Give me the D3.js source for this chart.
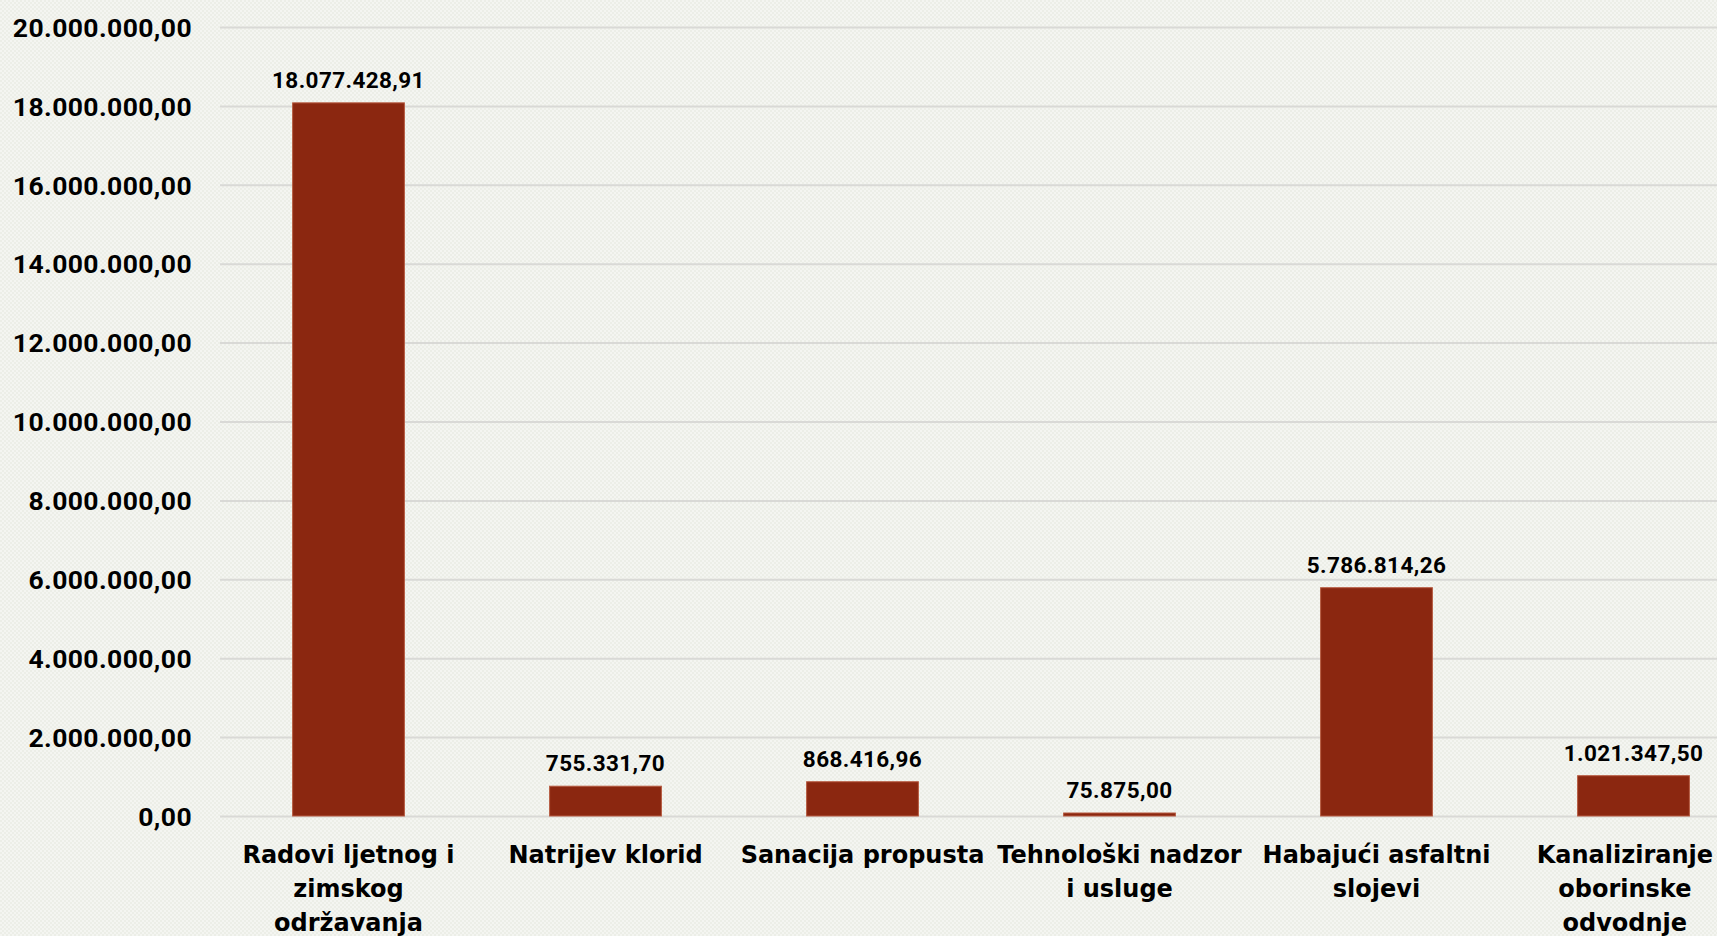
<!DOCTYPE html>
<html><head><meta charset="utf-8">
<script src="https://cdn.jsdelivr.net/npm/d3@7"></script>
<style>html,body{margin:0;padding:0;overflow:hidden;background:#f1f3ee}</style>
</head><body>
<svg id="chart" width="1717" height="936"></svg>
<script>
const categories = [
  "Radovi ljetnog i\nzimskog\nodržavanja",
  "Natrijev klorid",
  "Sanacija propusta",
  "Tehnološki nadzor\ni usluge",
  "Habajući asfaltni\nslojevi",
  "Kanaliziranje\noborinske\nodvodnje"
];
const values = [18077428.91, 755331.70, 868416.96, 75875.00, 5786814.26, 1021347.50];
const valueLabels = ["18.077.428,91", "755.331,70", "868.416,96", "75.875,00", "5.786.814,26", "1.021.347,50"];
const yTicks = [0, 2000000, 4000000, 6000000, 8000000, 10000000, 12000000, 14000000, 16000000, 18000000, 20000000];
const yTickLabels = ["0,00", "2.000.000,00", "4.000.000,00", "6.000.000,00", "8.000.000,00", "10.000.000,00", "12.000.000,00", "14.000.000,00", "16.000.000,00", "18.000.000,00", "20.000.000,00"];

const W = 1717, H = 936;
const svg = d3.select("#chart");
const defs = svg.append("defs");
const pat = defs.append("pattern").attr("id","bg").attr("width",4).attr("height",4).attr("patternUnits","userSpaceOnUse");
pat.append("rect").attr("width",4).attr("height",4).attr("fill","#f4f5f1");
pat.append("rect").attr("width",2).attr("height",2).attr("fill","#eceee7");
pat.append("rect").attr("x",2).attr("y",2).attr("width",2).attr("height",2).attr("fill","#eceee7");
svg.append("rect").attr("width",W).attr("height",H).attr("fill","url(#bg)");

const x = d3.scaleBand().domain(d3.range(categories.length)).range([220, 1762]).paddingInner(0.565).paddingOuter(0.2825);
const y = d3.scaleLinear().domain([0, 20000000]).range([816, 27]);

// gridlines + y axis
const yAxis = d3.axisLeft(y).tickValues(yTicks).tickSize(-(W - 220)).tickFormat((d,i)=>yTickLabels[i]).tickPadding(28);
const gy = svg.append("g").attr("transform","translate(220,0)").call(yAxis);
gy.select(".domain").remove();
gy.selectAll(".tick line").attr("stroke","#d9d9d6").attr("stroke-width",2);
gy.selectAll(".tick text").attr("font-family","Roboto").attr("font-weight","bold").attr("font-size",26.5)
  .attr("letter-spacing",0.4).attr("fill","#000").attr("dy","0.35em");

// bars
svg.append("g").selectAll("rect").data(values).join("rect")
  .attr("x",(d,i)=>x(i)).attr("width",x.bandwidth())
  .attr("y",d=>y(d)).attr("height",d=>y(0)-y(d))
  .attr("fill","#8b2710").attr("stroke","#b65a40").attr("stroke-width",1);

// value labels
svg.append("g").selectAll("text").data(values).join("text")
  .attr("x",(d,i)=>Math.min(x(i)+x.bandwidth()/2, W-82)).attr("y",d=>y(d)-15)
  .attr("text-anchor","middle").attr("font-family","Roboto").attr("font-weight","bold").attr("font-size",22.5)
  .attr("letter-spacing",0.4).attr("fill","#000")
  .text((d,i)=>valueLabels[i]);

// category labels
const cg = svg.append("g");
categories.forEach((c,i)=>{
  const t = cg.append("text").attr("text-anchor","middle").attr("font-family","DejaVu Sans").attr("font-weight","bold").attr("font-size",24).attr("fill","#000");
  const lines = c.split("\n");
  lines.forEach((ln,j)=>{
    t.append("tspan").attr("y",863 + j*34).text(ln);
  });
  const wmax = d3.max(t.selectAll("tspan").nodes(), n => n.getComputedTextLength());
  const cx = Math.min(x(i)+x.bandwidth()/2, W - wmax/2 - 4);
  t.selectAll("tspan").attr("x", cx);
});
</script>
</body></html>
